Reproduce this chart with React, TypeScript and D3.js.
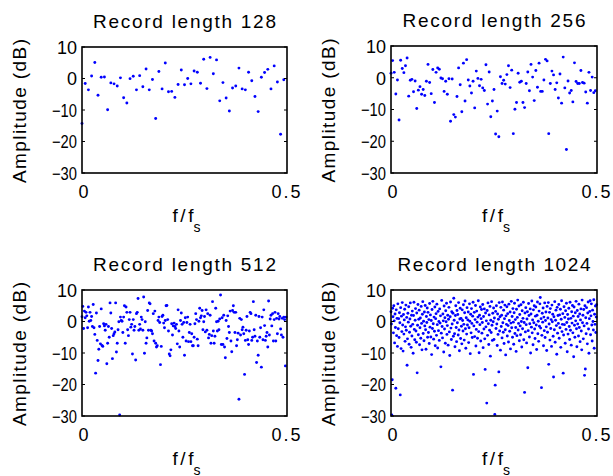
import React from "react";
import * as d3 from "d3";

const recordLengths = [128, 256, 512, 1024];
const titles = ["Record length 128", "Record length 256", "Record length 512", "Record length 1024"];
const yTicks = [10, 0, -10, -20, -30];
const xTicks = [0, 0.5];
const xTickLabels = ["0", "0.5"];

const amp128 = [
  -14.3, -1.6, -3.6, 0.8, 5.1, -5.3, 0.4, 0.5, -9.9, -1.4, -1.7, -2.4, 0.2, -6.1, -7.8, -0.05,
  0.7, -3.6, 0.9, -2.6, 3.0, -3.6, -0.3, -12.7, 2.2, -3.3, 4.9, -4.2, -4.1, -6.0, -1.9, 2.7,
  -2.0, 0.0, -1.7, 2.4, 2.0, -1.5, 6.1, -3.2, 6.7, 1.5, 5.9, -7.1, -1.3, -6.2, -10.3, -3.0,
  -2.4, 3.3, -3.3, -3.6, 2.0, -0.7, -5.7, -10.5, 0.4, 1.9, 2.9, -3.3, 4.0, -1.1, -17.7, -0.4,
];

const amp256 = [
  1.4, 5.4, 1.7, -5.1, -0.7, -13.3, 5.5, 2.9, 1.6, 3.8, 6.2, -5.8, -0.8, -0.5, -4.4, -1.0,
  -9.7, -3.9, -2.8, -5.2, -3.7, -5.6, -1.1, 4.2, -1.5, -5.0, 2.6, -7.8, 1.7, 3.1, 2.7, -0.1,
  -0.3, -4.3, -1.1, -5.2, -0.3, -13.7, -0.4, -11.6, -12.4, -5.9, 3.1, -2.2, -10.7, 4.6, -7.3, 5.7,
  -0.7, -2.6, -4.8, -1.1, -9.5, 2.1, -0.2, -2.5, -0.5, -3.2, -4.0, 4.1, -8.3, 1.8, -12.3, -7.3,
  -3.7, -17.7, -10.5, -18.6, 0.3, -1.8, -0.8, -2.0, 1.0, 3.8, -3.1, 2.4, -17.6, -9.9, -7.8, 1.4,
  -1.4, -1.1, -7.8, -9.4, -1.8, 1.8, -4.1, 4.2, 0.2, -7.2, 2.3, -3.0, 4.6, -4.3, -4.3, -0.7,
  5.8, 5.3, -17.6, -1.8, 2.1, 0.9, -3.7, -1.6, -6.4, 1.2, -8.0, 6.5, -3.2, -22.6, -1.0, -4.8,
  -4.0, -7.6, 4.7, -1.2, -1.8, -1.8, 2.3, -1.5, -1.7, -4.5, -8.0, 1.7, -4.0, 0.2, -4.7, -4.1,
];

const amp512 = [
  1.5, 4.8, -2.2, 3.3, 1.2, 2.9, 1.8, -2.0, 4.6, 0.1, 2.9, 0.3, 1.6, -1.6, 5.4, -2.0,
  -4.1, -16.4, 2.7, -6.0, -12.4, -8.8, -1.6, -7.1, 4.0, -7.6, -7.9, -0.7, -1.4, -2.8, -0.9, -13.4,
  -6.9, -1.6, -5.0, 5.9, 2.7, -2.2, -11.8, -4.5, -3.9, -3.3, 5.9, -9.7, -6.9, -2.6, -0.1, -29.7,
  1.4, 0.3, 0.1, -3.5, 1.4, 5.0, -6.9, 4.6, 2.9, -2.6, -4.5, 0.6, 2.9, -1.8, -0.9, -10.3,
  0.6, -2.8, -1.6, -12.2, 2.5, 2.9, 7.3, -2.8, -0.9, -2.4, 1.4, 0.6, -2.8, 7.8, -10.1, -0.1,
  -6.9, -5.2, 3.5, -2.8, 5.9,
  5.6, -2.8, -3.0, -3.9, 2.5, -6.2, 3.3, -6.9, -8.1, -7.7, 0.3, 1.4, -0.3, -13.7, -7.9, 1.6,
  2.0, -0.5, -2.0, 0.3, 5.0, 5.1, 0.6, -3.0, -10.3, -10.9, -9.0, -0.7, -4.3, -1.4, -0.5, -1.6,
  -2.2, -0.9, -7.1, 3.7, -3.0, -8.1, 0.3, 2.7, -0.9, -5.0, -0.3, -10.7, 1.2, -6.2, -0.3, 1.4,
  -6.4, -3.5, -0.9, -6.4, -3.9, -7.7, -7.7, -5.0, -0.7, 2.5, 0.6, -5.6, -7.7, 0.1, 4.2, 1.2,
  1.8, 3.5, -2.6, -0.1, 1.6, -3.3, 3.7, -2.8, 2.5, -5.2, -4.1, 2.0, -6.9, -4.5, 6.3, -3.0,
  -6.9, -4.7, 4.2, -0.1, -3.0, 0.1, -2.6, 0.8, 8.4, -7.3, 1.2,
  -7.3, 2.0, -8.1, -11.5, 0.3, -5.4, 1.8, -1.6, -3.5, 3.3, -6.2, -9.6, 3.5, 5.0, 2.9, -3.5,
  2.9, -7.7, -5.8, -3.7, -24.7, 1.0, -4.3, 0.6, -2.6, -1.8, -3.9, -16.8, -6.0, -2.8, 1.6,
  -5.8, -7.3, -3.0, 2.9, 2.5, -6.0, -5.0, 6.3, -2.6, -4.7, 2.0, -13.0, -6.2, -10.7, 1.6, -5.0,
  -2.0, -14.5, 1.4, -5.8, 3.7, -1.3, -6.0, -4.7, -3.5, -8.1, 6.5, -4.3, 0.8, 2.0, -1.4, 2.5,
  -6.2, 0.6, 2.9, -6.2, 1.0, -3.9, 2.5, 0.8, 1.6, -2.4, -4.3, 1.0, -5.0, 1.4, 0.6, -14.1, 1.4,
];

const amp1024 = [
  3.1, -0.8, -29.7, -18.5, 4.2, 1.5, -3.6, 5.0, 0.2, -6.8, 2.4, -1.9, -21.2, 3.7, -4.5, 1.0,
  -7.9, 5.6, -2.3, 0.9, -5.1, 2.8, -0.4, -23.3, 4.4, -8.6, 1.7, -3.2, 6.0, -1.1, -9.4, 2.2,
  -4.0, 0.5, 3.9, -6.3, -1.7, 5.2, -2.8, 1.3, -13.9, -5.5, 2.6, -0.2, 4.7, -7.2, -3.4, 0.8,
  5.9, -1.5, -8.2, 2.0, -4.6, 3.3, -0.9, -10.1, 1.9, 6.1, -2.5, -5.8, 0.4, 4.1, -3.0, -6.6,
  2.7, -16.3, -1.2, 5.4, -4.2, 0.7, 3.6, -7.4, -2.0, 1.1, -5.3, 4.8, -0.6, -9.0, 2.3, 6.3,
  -3.8, 0.1, -6.1, 3.0, -1.4, 5.1, -2.6, -8.8, 1.6, -0.3, 4.3, -5.0, 2.9, -3.5, 0.6, -7.0,
  5.7, -1.8, 2.1, -4.9, 0.3, -10.5, 3.8, -2.2, 6.4, -0.7, -5.6, 1.4, -3.1, 4.6, -7.7, 0.9,
  2.5, -4.4, 5.5, -1.0, -8.4, 3.2, -2.9, 0.0, -6.0, 4.0, -0.5, 1.8, -14.4, -3.7, 6.7, -1.6,
  -5.2, 2.4, 0.2, -9.7, 4.9, -2.4, 1.2, -6.9, 3.4, -0.1, 5.8, -4.1, -1.3, 2.0, -7.5, 0.7,
  4.5, -3.3, -10.8, 1.5, 6.2, -2.1, -5.7, 3.1, -0.8, -21.8, 2.6, -4.7, 7.4, 0.4, -3.9, -8.0,
  1.9, 5.0, -1.9, -6.4, 3.5, -0.4, 2.2, -4.3, 6.0, -2.7, -9.3, 0.8, 4.2, -5.4, 1.0, -1.5,
  -7.1, 3.7, 0.3, -3.0, 5.3, -0.9, -5.9, 2.8, 6.5, -2.3, -8.5, 1.2, -4.0, 4.4, -1.1, 0.5,
  3.0, -6.7, -2.0, 5.6, 0.1, -10.2, 2.3, -3.6, 4.1, -0.6, -5.1, 1.7, 6.1, -16.8, -1.4, 2.9,
  -4.8, 0.6, 5.1, -7.8, -2.5, 3.3, -0.2, -5.3, 1.4, 6.6, -3.2, -9.9, 2.0, -1.0, 4.6, -6.2,
  0.9, 3.8, -3.7, -0.3, 5.4, -8.3, 1.6, -2.4, 4.0, -5.5, -15.2, 2.7, -1.7, 0.2, -25.9, 3.5,
  -4.4, 5.9, -0.7, -7.3, 2.1, -2.8, 4.8, -11.0, 0.4, -3.5, 6.3, -1.2, -6.0, 2.6, -0.1, 4.3,
  -5.7, 1.1, -29.5, -20.2, 3.2, -2.2, 5.0, -0.8, -7.6, 2.4, -4.1, 0.7, -16.0, 6.0, -3.0, 1.5,
  -9.1, 4.5, -1.6, 2.0, -5.2, 6.2, -0.4, -3.4, 3.6, -7.0, 0.9, 5.2, -2.6, -10.6, 1.8, -0.9,
  4.7, -4.6, 2.5, -1.3, -6.5, 5.5, 0.3, -3.1, 3.0, -8.7, -0.5, 6.4, -2.0, 1.6, -5.0, 4.1,
  -0.2, -7.2, 2.8, 5.8, -3.8, 0.6, -1.9, -9.5, 3.9, -4.5, 1.3, 6.8, -2.7, -0.6, 4.9, -6.1,
  2.2, -1.4, -4.2, 5.3, 0.0, -8.1, 3.4, -2.3, 1.0, 6.1, -5.8, -0.3, -22.5, 2.7, -3.3, 4.4,
  -1.0, -6.8, 0.8, 3.1, -14.7, -2.9, 5.7, 1.9, -4.9, -0.7, 4.0, -10.0, 2.4, -1.8, 6.5, -3.6,
  0.5, -7.4, 3.7, -0.4, 5.0, -2.4, -5.4, 1.7, 4.6, -1.1, -8.9, 2.0, 6.2, -3.9, 0.1, -6.3,
  3.3, -1.5, 5.6, 7.6, -2.1, 0.9, -21.0, -4.4, 2.6, -0.2, 4.3, -7.7, 1.4, -2.9, 5.9, -5.1,
  0.3, 3.0, -1.7, -9.2, 4.8, -3.4, 1.1, 6.0, -13.6, -0.8, 2.9, -5.9, 4.1, -2.2, 0.6, -7.9,
  5.2, -0.1, 2.3, -4.7, -17.6, 1.5, -2.6, 6.3, -6.6, 0.4, 3.6, -1.3, -10.4, 4.5, -3.7, 1.9,
  -0.6, 5.4, -5.3, 2.1, -2.0, 3.9, -8.2, 0.7, 6.6, -3.2, -0.9, 2.5, -16.4, -4.3, 4.7, -1.0,
  1.3, -6.9, 3.4, -2.5, 5.8, -0.3, -9.6, 2.2, -4.0, 0.8, 4.2, -1.6, -5.7, 6.1, -2.8, 1.0,
  -7.5, 3.1, -0.5, 5.1, -3.6, 1.7, -11.2, 4.6, -1.2, -5.0, 2.8, 0.2, 6.4, -2.3, -8.0, 3.5,
  -0.8, 1.6, -4.6, 5.5, -1.9, 2.4, -6.4, 0.5, 4.0, -3.0, -9.0, 6.8, -0.4, 2.0, -5.5, 3.8,
  -1.4, -17.1, 5.0, -15.1, 1.2, -3.9, 4.4, -0.6, -7.1, 2.7, 6.2, -2.4, -10.1, 0.9, 3.2, 6.6,
  -4.2, 1.8, 5.6, -1.1, -6.2, 3.6, 0.0, -2.7, 6.9, -8.5, 2.3, -0.9, 4.9, -3.5, 1.4, 5.3,
];

const series = [amp128, amp256, amp512, amp1024];

const FONT = "'Liberation Sans', Arial, Helvetica, sans-serif";

const layout = [
  { x0: 82, x1: 287, y0: 47, y1: 173 },
  { x0: 391, x1: 597, y0: 46, y1: 173 },
  { x0: 82, x1: 287, y0: 290, y1: 416 },
  { x0: 391, x1: 597, y0: 290, y1: 416 },
];

function Panel({ idx }: { idx: number }) {
  const L = layout[idx];
  const N = recordLengths[idx];
  const vals = series[idx];
  const x = d3.scaleLinear().domain([0, 0.5]).range([L.x0, L.x1]);
  const y = d3.scaleLinear().domain([-30, 10]).range([L.y1, L.y0]);
  const cx = (L.x0 + L.x1) / 2;
  const cy = (L.y0 + L.y1) / 2;
  const tickLen = 3;
  const title = titles[idx];
  return (
    <g>
      <text
        x={cx}
        y={L.y0 - 19}
        textAnchor="middle"
        fontSize={19}
        fontFamily={FONT}
        textLength={title.length > 17 ? 193 : 183}
        lengthAdjust="spacing"
      >
        {title}
      </text>
      {vals.map((v, k) => (
        <circle key={k} cx={x(k / N)} cy={y(v)} r={1.45} fill="#0000ff" />
      ))}
      {yTicks.map((t) => {
        const label = t < 0 ? "\u2212" + Math.abs(t) : String(t);
        return (
          <g key={t}>
            <line x1={L.x0} x2={L.x0 + tickLen} y1={y(t)} y2={y(t)} stroke="#000" strokeWidth={1} />
            <line x1={L.x1} x2={L.x1 - tickLen} y1={y(t)} y2={y(t)} stroke="#000" strokeWidth={1} />
            <text
              x={L.x0 - 5}
              y={y(t)}
              dy="0.38em"
              textAnchor="end"
              fontSize={18}
              fontFamily={FONT}
              {...(t < 0 ? { textLength: 25, lengthAdjust: "spacingAndGlyphs" } : {})}
            >
              {label}
            </text>
          </g>
        );
      })}
      {xTicks.map((t, i) => (
        <text
          key={t}
          x={x(t) + (i === 0 ? 1.5 : -1)}
          y={L.y1 + 25}
          textAnchor="middle"
          fontSize={18}
          fontFamily={FONT}
          {...(i === 1 ? { textLength: 29, lengthAdjust: "spacing" } : {})}
        >
          {xTickLabels[i]}
        </text>
      ))}
      <rect
        x={L.x0}
        y={L.y0}
        width={L.x1 - L.x0}
        height={L.y1 - L.y0}
        fill="none"
        stroke="#000"
        strokeWidth={1.6}
      />
      <text
        x={cx - 12}
        y={L.y1 + 49}
        textAnchor="start"
        fontSize={19}
        fontFamily={FONT}
        textLength={21}
        lengthAdjust="spacing"
      >
        f/f
      </text>
      <text x={cx + 9} y={L.y1 + 58.5} textAnchor="start" fontSize={14} fontFamily={FONT}>
        s
      </text>
      <text
        transform={`translate(${L.x0 - 56},${cy + 1}) rotate(-90)`}
        textAnchor="middle"
        fontSize={19}
        fontFamily={FONT}
        textLength={144}
        lengthAdjust="spacing"
      >
        Amplitude (dB)
      </text>
    </g>
  );
}

export default function App() {
  return (
    <svg
      width={613}
      height={476}
      style={{ position: "absolute", left: 0, top: 0, background: "#fff" }}
    >
      <rect width={613} height={476} fill="#fff" />
      {[0, 1, 2, 3].map((i) => (
        <Panel key={i} idx={i} />
      ))}
    </svg>
  );
}
